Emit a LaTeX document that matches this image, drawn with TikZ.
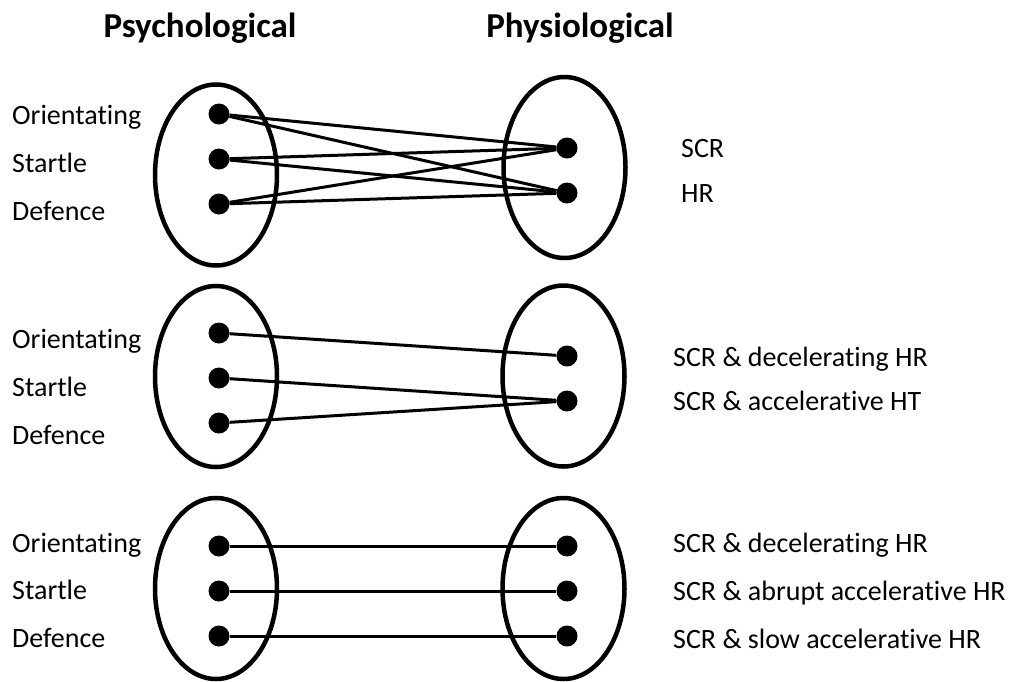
\documentclass[tikz,border=0pt]{standalone}
\usepackage{fontspec}
\setmainfont{Carlito}[Ligatures=NoCommon]
\usetikzlibrary{shapes.geometric}
\begin{document}
\begin{tikzpicture}[x=1pt,y=-1pt,
  dotnode/.style={circle,fill=black,inner sep=0pt,minimum size=21pt},
  setnode/.style={ellipse,draw=black,line width=4.5pt,inner sep=0pt,minimum width=122pt,minimum height=181pt},
  link/.style={line width=3pt},
  lbl/.style={anchor=base west,inner sep=0pt,font=\fontsize{28}{33}\selectfont},
  head/.style={anchor=base,inner sep=0pt,font=\fontsize{35}{42}\selectfont\bfseries}]
\useasboundingbox (0,0) rectangle (1009,681);
% headers
\node[head] (hpsy) at (200,37) {Psychological};
\node[head] (hphy) at (580,37) {Physiological};
% ---------- top group ----------
\node[setnode] (eL1) at (216,175) {};
\node[setnode] (eR1) at (564.5,167.5) {};
\node[dotnode] (a1) at (219,114) {};
\node[dotnode] (a2) at (219,159) {};
\node[dotnode] (a3) at (219,204) {};
\node[dotnode] (b1) at (567,148) {};
\node[dotnode] (b2) at (567,193) {};
\draw[link] (a1) -- (b1); \draw[link] (a1) -- (b2);
\draw[link] (a2) -- (b1); \draw[link] (a2) -- (b2);
\draw[link] (a3) -- (b1); \draw[link] (a3) -- (b2);
\node[lbl] (ta1) at (12,124) {Orientating};
\node[lbl] (ta2) at (12,172) {Startle};
\node[lbl] (ta3) at (12,220) {Defence};
\node[lbl] (tb1) at (681,157) {SCR};
\node[lbl] (tb2) at (681,202) {HR};
% ---------- middle group ----------
\node[setnode] (eL2) at (216,376.5) {};
\node[setnode] (eR2) at (563.5,376) {};
\node[dotnode] (c1) at (219,333) {};
\node[dotnode] (c2) at (219,378) {};
\node[dotnode] (c3) at (219,423) {};
\node[dotnode] (d1) at (567,356) {};
\node[dotnode] (d2) at (567,401) {};
\draw[link] (c1) -- (d1);
\draw[link] (c2) -- (d2);
\draw[link] (c3) -- (d2);
\node[lbl] (tc1) at (12,348) {Orientating};
\node[lbl] (tc2) at (12,396) {Startle};
\node[lbl] (tc3) at (12,444) {Defence};
\node[lbl] (td1) at (673,366) {SCR \& decelerating HR};
\node[lbl] (td2) at (673,410) {SCR \& accelerative HT};
% ---------- bottom group ----------
\node[setnode] (eL3) at (216,588.5) {};
\node[setnode] (eR3) at (563.5,588.5) {};
\node[dotnode] (e1) at (219,546) {};
\node[dotnode] (e2) at (219,591) {};
\node[dotnode] (e3) at (219,636) {};
\node[dotnode] (f1) at (567,546) {};
\node[dotnode] (f2) at (567,591) {};
\node[dotnode] (f3) at (567,636) {};
\draw[link] (e1) -- (f1);
\draw[link] (e2) -- (f2);
\draw[link] (e3) -- (f3);
\node[lbl] (te1) at (12,552) {Orientating};
\node[lbl] (te2) at (12,599) {Startle};
\node[lbl] (te3) at (12,647) {Defence};
\node[lbl] (tf1) at (673,552) {SCR \& decelerating HR};
\node[lbl] (tf2) at (673,600) {SCR \& abrupt accelerative HR};
\node[lbl] (tf3) at (673,648) {SCR \& slow accelerative HR};
\end{tikzpicture}
\end{document}
